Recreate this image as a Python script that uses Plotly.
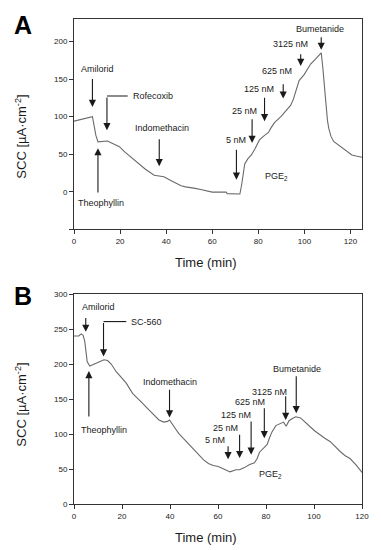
import plotly.graph_objects as go

# ---------------- data ----------------
time_a = [0, 4, 7.5, 8, 8.6, 9.5, 10.4, 12, 14.5, 17, 19.7, 22, 25, 28.3, 31, 34.8, 37, 39,
          42, 44, 46.5, 48.4, 50, 52.6, 55, 58.4, 60, 63, 66, 66.5, 69, 72, 72.8, 73.5,
          74.1, 75.5, 77, 78.5, 80.5, 82.7, 84.4, 85.5, 87, 89.8, 91.5, 92.7, 94, 95.2,
          96.3, 97.7, 99.9, 101, 102.7, 104.9, 106, 107.3, 108, 108.6, 109.2, 110, 110.6,
          111.5, 112.7, 115.6, 118.5, 120.6, 122.5, 125]
scc_a = [94, 97, 100, 100, 90, 75, 66.5, 67, 67.5, 64, 60, 53, 45, 36, 30, 22, 21, 20,
         15, 11.5, 8, 6.5, 6, 4.5, 3, 0, -0.5, -0.5, -0.5, -2.5, -3, -3, 10, 25,
         37, 44, 49, 57, 69, 75, 79, 85, 92, 100, 106, 110, 115, 123,
         133, 148, 156, 162, 170, 177, 181, 185, 165, 140, 120, 95, 84,
         74, 67, 60, 54, 49, 47.5, 46]

time_b = [0, 2, 3, 3.8, 4.5, 5, 5.5, 6.6, 8.6, 10.7, 12.5, 14, 15.5, 17.6, 20.3, 21.7,
          24.4, 26, 28.5, 30.5, 32.6, 34, 35.4, 37.4, 39, 39.8, 40.5, 42, 43.6, 45.5,
          47.7, 50, 51.9, 54, 56, 58, 60.1, 62, 64.2, 65, 66, 67.5, 69, 71, 73.2, 75.2,
          76.3, 77.3, 79.3, 80.5, 81.4, 82.5, 84.1, 86.2, 87.3, 88.4, 89.6, 91, 92.4,
          94.4, 96.5, 98.5, 100.5, 102.7, 104.5, 106.8, 108.5, 110.9, 113, 115, 117.5, 120]
scc_b = [240, 240, 243, 241, 232, 215, 203, 197, 200, 204, 206, 205, 200, 189, 178, 173,
         158, 152, 144, 137, 130, 125, 120, 117, 118, 120, 116, 109, 101, 94,
         87, 78, 70, 63, 58, 55, 53.5, 50, 47, 46, 47.5, 49, 49, 52, 56.5, 59,
         65, 74, 81, 85, 94, 103, 112, 116, 117, 111, 119, 122, 124.6,
         123, 117, 110, 104, 98, 94, 89, 83, 75, 69, 65, 56, 45]

# arrows: (label, text_x, text_y, tip_x, tip_y, tail_x, tail_y)
arrows_a = [
    ("Amilorid", 10, 163, 8, 113, 8, 152),
    ("Theophyllin", 11.9, -15, 10.4, 58, 10.4, -3),
    ("Indomethacin", 38.3, 85, 37, 34, 37, 72),
    ("5 nM", 70.3, 69.5, 70.5, 16, 70.5, 58),
    ("25 nM", 74.1, 108, 77.3, 65, 77.3, 98.4),
    ("125 nM", 80.1, 137, 82.7, 94, 82.7, 127),
    ("625 nM", 88.1, 161, 90.8, 124, 90.8, 145),
    ("3125 nM", 93.8, 197, 98.4, 167.5, 98.4, 185),
    ("Bumetanide", 106.6, 217, 107.3, 189, 107.3, 207.6),
]
# bracket: label, text_left_x, text_y, x, tip_y, top_y, end_x
bracket_a = ("Rofecoxib", 24.7, 127.4, 14.3, 82, 127.4, 23.3)
pge_a = (87.7, 20.5)

arrows_b = [
    ("Amilorid", 10, 282, 4.9, 246, 4.9, 268),
    ("Theophyllin", 12.5, 106, 6.2, 190, 6.2, 122.7),
    ("Indomethacin", 40.2, 174, 39.8, 123.6, 39.8, 165.5),
    ("5 nM", 58.7, 91, 64.2, 64, 64.2, 84.6),
    ("25 nM", 63.2, 108.4, 69, 65.6, 69, 101),
    ("125 nM", 67.6, 126.5, 73.8, 70.4, 73.8, 120),
    ("625 nM", 73.4, 145.5, 79.3, 94, 79.3, 139),
    ("3125 nM", 81.3, 160.7, 88.2, 120, 88.2, 156),
    ("Bumetanide", 93, 192.6, 92.6, 129.8, 92.6, 184.5),
]
bracket_b = ("SC-560", 22.8, 260.6, 12.3, 210.7, 260.6, 21.8)
pge_b = (81.8, 41.8)

# ---------------- figure ----------------
FONT = "Liberation Sans, Arial, sans-serif"
LINE = "#6a6a6a"
INK = "#1a1a1a"

fig = go.Figure()
fig.add_trace(go.Scatter(x=time_a, y=scc_a, mode="lines", xaxis="x", yaxis="y",
                         line=dict(color=LINE, width=1.1), showlegend=False, hoverinfo="skip"))
fig.add_trace(go.Scatter(x=time_b, y=scc_b, mode="lines", xaxis="x2", yaxis="y2",
                         line=dict(color=LINE, width=1.1), showlegend=False, hoverinfo="skip"))

annotations = []
shapes = []


def add_panel(arrows, bracket, pge, xr, yr):
    for lab, tx, ty, hx, hy, ax, ay in arrows:
        annotations.append(dict(x=hx, y=hy, ax=ax, ay=ay, xref=xr, yref=yr, axref=xr, ayref=yr,
                                text="", showarrow=True, arrowhead=2, arrowsize=1.3,
                                arrowwidth=1.1, arrowcolor=INK))
        annotations.append(dict(x=tx, y=ty, xref=xr, yref=yr, text=lab, showarrow=False,
                                font=dict(family=FONT, size=9, color=INK),
                                xanchor="center", yanchor="middle"))
    lab, tx, ty, bx, tip, top, ex = bracket
    shapes.append(dict(type="line", xref=xr, yref=yr, x0=bx, x1=ex, y0=top, y1=top,
                       line=dict(color=INK, width=1.1)))
    annotations.append(dict(x=bx, y=tip, ax=bx, ay=top, xref=xr, yref=yr, axref=xr, ayref=yr,
                            text="", showarrow=True, arrowhead=2, arrowsize=1.3,
                            arrowwidth=1.1, arrowcolor=INK))
    annotations.append(dict(x=tx, y=ty, xref=xr, yref=yr, text=lab, showarrow=False,
                            font=dict(family=FONT, size=9, color=INK),
                            xanchor="left", yanchor="middle"))
    annotations.append(dict(x=pge[0], y=pge[1], xref=xr, yref=yr, text="PGE<sub>2</sub>",
                            showarrow=False, font=dict(family=FONT, size=9, color=INK),
                            xanchor="center", yanchor="middle"))


add_panel(arrows_a, bracket_a, pge_a, "x", "y")
add_panel(arrows_b, bracket_b, pge_b, "x2", "y2")

# body margin is removed in the page (post_script), so figure fills the 381x550 window
W, H = 381, 550
ML, MR, MT, MB = 74, 15.5, 19, 46
pw, ph = W - ML - MR, H - MT - MB


def px(xp):  # page pixel x -> paper
    return (xp - ML) / pw


def py(yp):  # page pixel y -> paper
    return (H - MB - yp) / ph


for letter, yp in (("A", 25), ("B", 296)):
    annotations.append(dict(x=px(22), y=py(yp), xref="paper", yref="paper", text="<b>%s</b>" % letter,
                            showarrow=False, font=dict(family=FONT, size=25, color="#000"),
                            xanchor="center", yanchor="middle"))
for yp in (262, 537):
    annotations.append(dict(x=px(208), y=py(yp), xref="paper", yref="paper", text="Time (min)",
                            showarrow=False, font=dict(family=FONT, size=13, color=INK),
                            xanchor="center", yanchor="middle"))
for yp in (137, 405):
    annotations.append(dict(x=px(20), y=py(yp), xref="paper", yref="paper",
                            text="SCC [µA·cm<sup>-2</sup>]", textangle=-90,
                            showarrow=False, font=dict(family=FONT, size=13, color=INK),
                            xanchor="center", yanchor="middle"))

axis_common = dict(showline=True, mirror=True, linecolor="#333", linewidth=1, ticks="outside",
                   ticklen=4, tickcolor="#333", tickwidth=1, showgrid=False, zeroline=False,
                   tickfont=dict(family=FONT, size=8, color=INK))

fig.update_layout(
    width=W, height=H,
    margin=dict(l=ML, r=MR, t=MT, b=MB, pad=0),
    paper_bgcolor="white", plot_bgcolor="white",
    xaxis=dict(domain=[0, 1], anchor="y", range=[0, 125], tickvals=[0, 20, 40, 60, 80, 100, 120],
               **axis_common),
    yaxis=dict(domain=[py(229.3), 1], anchor="x", range=[-50, 230],
               tickvals=[-50, 0, 50, 100, 150, 200], ticktext=["", "0", "50", "100", "150", "200"],
               **axis_common),
    xaxis2=dict(domain=[0, 1], anchor="y2", range=[0, 120], tickvals=[0, 20, 40, 60, 80, 100, 120],
                **axis_common),
    yaxis2=dict(domain=[0, py(294)], anchor="x2", range=[0, 300],
                tickvals=[0, 50, 100, 150, 200, 250, 300], **axis_common),
    annotations=annotations,
    shapes=shapes,
    showlegend=False,
)

fig.write_html("out.html", config={"displayModeBar": False, "staticPlot": True},
               post_script="document.body.style.margin='0';document.body.style.overflow='hidden';")
